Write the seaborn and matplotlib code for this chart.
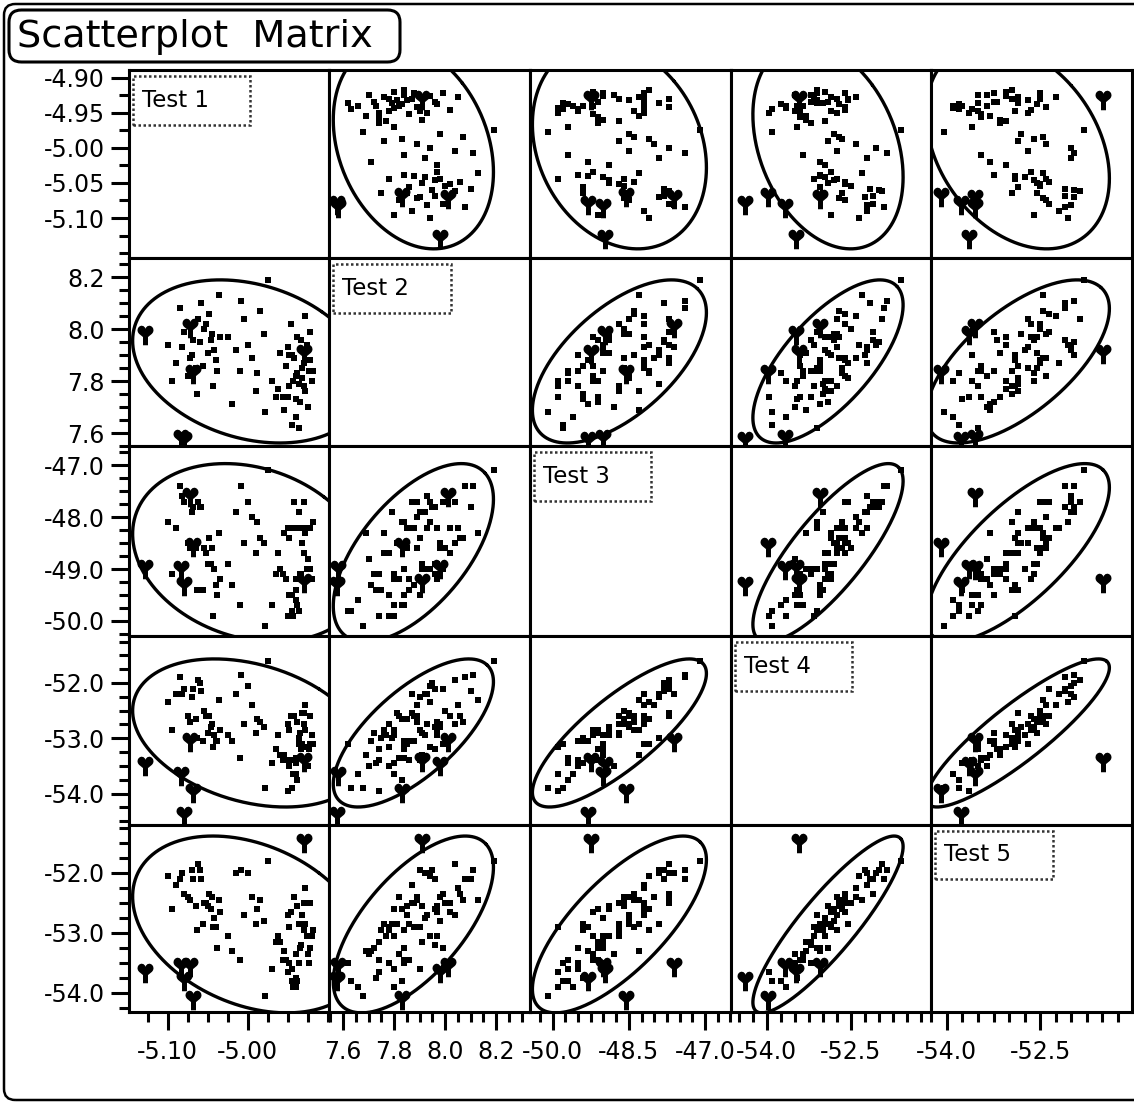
import numpy as np
import pandas as pd
import matplotlib
matplotlib.use("Agg")
import matplotlib.pyplot as plt
import seaborn as sns
from matplotlib.path import Path
from matplotlib.patches import FancyBboxPatch, Rectangle
from matplotlib.ticker import FixedLocator, MultipleLocator, FuncFormatter

# ---------------- data ----------------
variables = ["Test 1", "Test 2", "Test 3", "Test 4", "Test 5"]

test1 = [-4.925, -4.940, -4.935, -4.945, -4.930, -4.950, -4.920, -4.955, -4.938, -4.928,
         -4.943, -4.932, -4.948, -4.922, -4.940, -4.936, -4.952, -4.918, -4.945, -4.930,
         -4.960, -4.926, -4.942, -4.934, -4.950, -4.922, -4.938, -4.946, -4.928, -4.956,
         -4.932, -4.948, -4.940, -4.924, -4.962, -4.936,
         -5.045, -5.060, -5.052, -5.070, -5.040, -5.082, -5.048, -5.065, -5.035, -5.090,
         -5.055, -5.075, -5.042, -5.058, -5.068, -5.038, -5.095, -5.050, -5.062, -5.044,
         -5.080, -5.056, -5.100, -5.036, -5.072, -5.046, -5.064, -5.085,
         -4.975, -4.985, -5.000, -4.990, -5.010, -4.980, -5.020, -4.995, -5.005, -4.970,
         -5.015, -4.978, -5.025, -4.988, -5.008, -4.965,
         -5.128, -5.072, -5.068, -5.084, -4.930, -5.080]

test2 = [7.70, 7.66, 7.72, 7.63, 7.78, 7.74, 7.80, 7.69, 7.83, 7.76,
         7.80, 7.85, 7.78, 7.88, 7.82, 7.79, 7.86, 7.84, 7.90, 7.87,
         7.91, 7.94, 7.89, 7.96, 7.93, 7.99, 7.97, 8.02, 8.05, 7.74,
         7.81, 7.90, 7.73, 7.84, 7.77, 7.62,
         7.98, 7.95, 8.02, 7.90, 7.88, 7.93, 8.06, 7.85, 7.97, 7.87,
         8.00, 7.82, 7.92, 8.10, 7.96, 7.84, 7.80, 7.91, 8.04, 7.78,
         7.99, 7.86, 7.94, 8.13, 7.89, 7.96, 7.75, 8.08,
         8.19, 8.07, 7.94, 7.76, 7.84, 7.98, 7.71, 7.89, 8.04, 7.80,
         7.92, 7.68, 7.97, 7.83, 8.11, 7.74,
         7.98, 8.01, 7.83, 7.58, 7.91, 7.575]

test3 = [-48.8, -49.6, -49.1, -49.8, -48.7, -49.9, -49.2, -48.3, -49.7, -48.3,
         -49.9, -48.2, -49.5, -48.2, -49.2, -47.9, -49.2, -48.1, -49.5, -47.7,
         -49.0, -49.0, -47.7, -49.1, -48.2, -49.0, -48.2, -48.2, -48.2, -49.1,
         -48.5, -48.4, -49.4, -49.0, -48.7, -49.8,
         -48.6, -47.8, -48.7, -47.9, -49.3, -47.6, -48.4, -48.6, -49.2, -48.2,
         -48.6, -48.5, -49.0, -47.8, -47.8, -49.5, -49.1, -48.9, -47.7, -49.9,
         -47.7, -49.4, -48.1, -48.3, -48.6, -48.9, -49.4, -47.4,
         -47.1, -48.4, -47.7, -48.7, -49.7, -48.5, -49.3, -48.0, -48.5, -49.7,
         -47.9, -50.1, -48.9, -48.1, -47.4, -49.1,
         -48.98, -47.60, -48.55, -49.00, -49.25, -49.30]

test4 = [-53.50, -53.65, -52.90, -53.90, -52.75, -53.95, -52.95, -53.30, -53.75, -52.85,
         -53.65, -53.10, -53.50, -52.60, -53.35, -53.00, -53.40, -53.10, -53.40, -52.55,
         -53.30, -53.15, -52.60, -53.20, -52.75, -53.10, -52.70, -52.60, -52.40, -53.40,
         -52.55, -52.85, -53.45, -53.20, -52.95, -53.10,
         -52.75, -52.00, -52.60, -52.25, -53.05, -52.20, -52.60, -52.65, -52.85, -52.20,
         -52.50, -52.60, -52.95, -52.15, -52.10, -53.05, -52.85, -52.90, -51.95, -53.15,
         -52.10, -53.05, -52.35, -52.30, -52.70, -52.80, -53.00, -51.90,
         -51.60, -52.70, -52.05, -52.90, -53.35, -52.80, -53.05, -52.40, -52.75, -53.45,
         -52.20, -53.90, -52.95, -52.65, -51.85, -53.20,
         -53.48, -53.05, -53.98, -53.67, -53.42, -54.39]

test5 = [-53.35, -53.90, -53.25, -53.80, -52.95, -53.65, -53.05, -53.30, -53.80, -52.85,
         -53.90, -52.70, -53.50, -52.50, -53.35, -52.85, -53.45, -52.95, -53.60, -52.50,
         -53.15, -53.05, -52.40, -53.20, -52.70, -53.25, -52.55, -52.65, -52.25, -53.45,
         -52.85, -52.90, -53.75, -53.50, -53.05, -53.50,
         -52.40, -51.95, -52.50, -51.95, -52.90, -52.00, -52.35, -52.55, -52.65, -52.20,
         -52.50, -52.40, -52.75, -52.10, -52.10, -53.25, -52.60, -52.55, -51.85, -52.90,
         -52.35, -52.85, -52.05, -52.45, -52.45, -52.60, -52.95, -52.10,
         -51.80, -52.45, -52.00, -52.85, -53.45, -52.80, -53.30, -52.40, -52.70, -53.60,
         -52.00, -54.05, -53.05, -52.60, -51.95, -53.15,
         -53.65, -53.55, -54.10, -53.55, -51.48, -53.78]

# 1 = row drawn with the heart marker
flagged = [0] * 80 + [1] * 6

# tick labels of each variable (bottom axis / left axis)
x_tick_values = [[-5.10, -5.00], [7.6, 7.8, 8.0, 8.2], [-50.0, -48.5, -47.0],
                 [-54.0, -52.5], [-54.0, -52.5]]
y_tick_values = [[-4.90, -4.95, -5.00, -5.05, -5.10], [8.2, 8.0, 7.8, 7.6],
                 [-47.0, -48.0, -49.0, -50.0], [-52.0, -53.0, -54.0], [-52.0, -53.0, -54.0]]
tick_formats = ["%.2f", "%.1f", "%.1f", "%.1f", "%.1f"]
minor_steps = [0.025, 0.05, 0.25, 0.25, 0.25]

# axis ranges
x_limits = [(-5.149, -4.898), (7.546, 8.333), (-50.45, -46.49), (-54.64, -51.06), (-54.25, -51.02)]
y_limits = [(-5.157, -4.889), (7.55, 8.274), (-50.29, -46.63), (-54.57, -51.15), (-54.32, -51.2)]

df = pd.DataFrame({variables[0]: test1, variables[1]: test2, variables[2]: test3,
                   variables[3]: test4, variables[4]: test5, "flag": flagged})
regular = df[df["flag"] == 0]
hearts = df[df["flag"] == 1]

# ---------------- style ----------------
sns.set_style("white")
plt.rcParams["font.family"] = ["DejaVu Sans"]
plt.rcParams["text.color"] = "black"
plt.rcParams["xtick.color"] = "black"
plt.rcParams["ytick.color"] = "black"
plt.rcParams["axes.edgecolor"] = "black"

W, H = 1134, 1103
fig = plt.figure(figsize=(W / 100, H / 100), dpi=100)
fig.patch.set_facecolor("white")

x_edges = [128.6, 329.3, 530.0, 730.7, 931.4, 1132.0]
y_edges = [70.0, 258.0, 446.0, 636.0, 825.0, 1012.0]

# heart marker (downward heart on a thick stem)
hv = [(0, -0.40), (-0.25, -0.15), (-0.9, 0.1), (-0.65, 0.58),
      (-0.45, 0.9), (-0.08, 0.8), (0, 0.5),
      (0.08, 0.8), (0.45, 0.9), (0.65, 0.58),
      (0.9, 0.1), (0.25, -0.15), (0, -0.40), (0, -0.40),
      (-0.22, -0.2), (0.22, -0.2), (0.22, -0.95), (-0.22, -0.95), (-0.22, -0.2)]
hc = [Path.MOVETO] + [Path.CURVE4] * 12 + [Path.CLOSEPOLY] + \
     [Path.MOVETO, Path.LINETO, Path.LINETO, Path.LINETO, Path.CLOSEPOLY]
heart = Path(hv, hc)

chi = np.sqrt(5.991)  # 95% density ellipse


def add_ellipse(ax, xs, ys):
    xs = np.asarray(xs, float)
    ys = np.asarray(ys, float)
    cov = np.cov(xs, ys)
    sx, sy = np.sqrt(cov[0, 0]), np.sqrt(cov[1, 1])
    r = cov[0, 1] / (sx * sy)
    t = np.linspace(0, 2 * np.pi, 400)
    u, v = np.cos(t), np.sin(t)
    a, b = np.sqrt((1 + r) / 2), np.sqrt((1 - r) / 2)
    ex = xs.mean() + chi * sx * (a * u + b * v)
    ey = ys.mean() + chi * sy * (a * u - b * v)
    ax.plot(ex, ey, color="black", lw=2.4, zorder=2)


for r in range(5):
    for c in range(5):
        left = x_edges[c] / W
        bottom = 1 - y_edges[r + 1] / H
        width = (x_edges[c + 1] - x_edges[c]) / W
        height = (y_edges[r + 1] - y_edges[r]) / H
        ax = fig.add_axes([left, bottom, width, height])
        ax.set_facecolor("white")
        ax.set_xlim(*x_limits[c])
        ax.set_ylim(*y_limits[r])
        for s in ax.spines.values():
            s.set_linewidth(2.2)
            s.set_color("black")
            s.set_visible(True)
        if r == c:
            ax.add_patch(Rectangle((0.02, 0.71), 0.585, 0.26, transform=ax.transAxes,
                                   facecolor="white", edgecolor="#333333", lw=1.8,
                                   ls=(0, (1, 1)), zorder=3))
            ax.text(0.065, 0.84, variables[r], transform=ax.transAxes, fontsize=16.5,
                    va="center", ha="left", color="black", zorder=4)
        else:
            xv, yv = variables[c], variables[r]
            add_ellipse(ax, df[xv], df[yv])
            sns.scatterplot(data=regular, x=xv, y=yv, ax=ax, marker="s", s=25,
                            color="black", linewidth=0, legend=False, zorder=3)
            sns.scatterplot(data=hearts, x=xv, y=yv, ax=ax, marker=heart, s=240,
                            color="black", linewidth=0, legend=False, zorder=4)
        ax.set_xlabel("")
        ax.set_ylabel("")
        if c == 0:
            ax.yaxis.set_major_locator(FixedLocator(y_tick_values[r]))
            fmt = tick_formats[r]
            ax.yaxis.set_major_formatter(FuncFormatter(lambda v, p, f=fmt: f % v))
            ax.yaxis.set_minor_locator(MultipleLocator(minor_steps[r]))
            ax.tick_params(axis="y", which="major", direction="out", length=13, width=2.2,
                           labelsize=17, pad=4, left=True, labelleft=True, colors="black")
            ax.tick_params(axis="y", which="minor", direction="out", length=7, width=2.2,
                           left=True, colors="black")
        else:
            ax.set_yticks([])
            ax.yaxis.set_minor_locator(FixedLocator([]))
        if r == 4:
            ax.xaxis.set_major_locator(FixedLocator(x_tick_values[c]))
            fmt = tick_formats[c]
            ax.xaxis.set_major_formatter(FuncFormatter(lambda v, p, f=fmt: f % v))
            ax.xaxis.set_minor_locator(MultipleLocator(minor_steps[c]))
            ax.tick_params(axis="x", which="major", direction="out", length=13, width=2.2,
                           labelsize=17, pad=7, bottom=True, labelbottom=True, colors="black")
            ax.tick_params(axis="x", which="minor", direction="out", length=7, width=2.2,
                           bottom=True, colors="black")
        else:
            ax.set_xticks([])
            ax.xaxis.set_minor_locator(FixedLocator([]))

# title box
fig.patches.append(FancyBboxPatch((9 / W, 1 - 62 / H), 391 / W, 52 / H,
                                  boxstyle="round,pad=0,rounding_size=0.011",
                                  transform=fig.transFigure, facecolor="white",
                                  edgecolor="black", lw=2.2, zorder=5))
fig.text(17 / W, 1 - 37 / H, "Scatterplot  Matrix", fontsize=27.5, va="center",
         ha="left", color="black", zorder=6)

# outer frame
fig.patches.append(FancyBboxPatch((4 / W, 3 / H), 1.2, 1 - 7 / H,
                                  boxstyle="round,pad=0,rounding_size=0.01",
                                  transform=fig.transFigure, facecolor="none",
                                  edgecolor="black", lw=1.8, zorder=0))

fig.savefig("out.png", dpi=100, facecolor="white")
